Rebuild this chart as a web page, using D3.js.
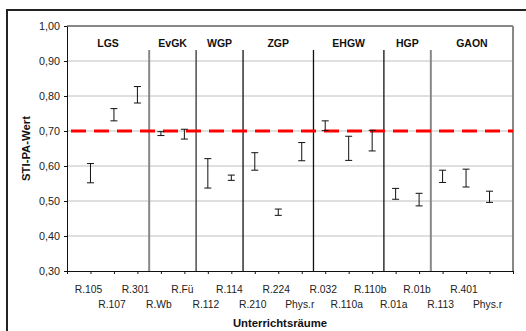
<!DOCTYPE html>
<html><head><meta charset="utf-8">
<script src="https://cdn.jsdelivr.net/npm/d3@7"></script>
<style>
html,body{margin:0;padding:0;background:#fff;}
svg{display:block;font-family:"Liberation Sans",Arial,sans-serif;}
</style></head>
<body><svg id="c" width="526" height="331"></svg>
<script>
const groups = ["LGS","EvGK","WGP","ZGP","EHGW","HGP","GAON"];
const groupSizes = [3,2,2,3,3,2,3];
const rooms = ["R.105","R.107","R.301","R.Wb","R.Fü","R.112","R.114","R.210","R.224","Phys.r","R.032","R.110a","R.110b","R.01a","R.01b","R.113","R.401","Phys.r"];
const lows  = [0.552,0.729,0.780,0.687,0.677,0.537,0.559,0.588,0.459,0.615,0.701,0.616,0.643,0.505,0.486,0.553,0.540,0.496];
const highs = [0.607,0.764,0.827,0.698,0.705,0.621,0.574,0.638,0.477,0.667,0.729,0.685,0.702,0.536,0.522,0.588,0.591,0.528];
const yTicks = [0.30,0.40,0.50,0.60,0.70,0.80,0.90,1.00];
const threshold = 0.70;
const yTitle = "STI-PA-Wert";
const xTitle = "Unterrichtsräume";

const svg = d3.select("#c");
const L = 67, R = 513, T = 26, B = 271;
const x = d3.scaleLinear().domain([0, rooms.length + 1]).range([L, R]);
const y = d3.scaleLinear().domain([0.30, 1.00]).range([B, T]);

// outer frame
svg.append("rect").attr("x",7).attr("y",10).attr("width",600).attr("height",400)
  .attr("fill","none").attr("stroke","#222").attr("stroke-width",2);

// gridlines
svg.append("g").selectAll("line").data(yTicks.filter(v => v > 0.30 && v < 1.0)).join("line")
  .attr("x1",L).attr("x2",R).attr("y1",d=>y(d)).attr("y2",d=>y(d))
  .attr("stroke","#c0c0c0").attr("stroke-width",1);

// plot border: top black, right gray
svg.append("line").attr("x1",L).attr("x2",R).attr("y1",y(1.0)).attr("y2",y(1.0)).attr("stroke","#111").attr("stroke-width",1);
svg.append("line").attr("x1",R).attr("x2",R).attr("y1",T).attr("y2",B).attr("stroke","#888").attr("stroke-width",2);

// group separators
const bounds = [];
let acc = 0;
groupSizes.forEach(n => { acc += n; bounds.push(acc); });
const sepColor = ["#888","#333","#111","#111","#111","#888"];
svg.append("g").selectAll("line").data(bounds.slice(0,-1)).join("line")
  .attr("x1",d=>x(d+0.5)).attr("x2",d=>x(d+0.5)).attr("y1",50).attr("y2",B)
  .attr("stroke",(d,i)=>sepColor[i]).attr("stroke-width",(d,i)=>sepColor[i]==="#888"?2:1.3);

// group labels centered between separators
const edges = [0].concat(bounds.slice(0,-1).map(b=>b+0.5)).concat([rooms.length+1]);
const edgesL = [0].concat(bounds.slice(0,-1).map(b=>b+0.5));
svg.append("g").selectAll("text").data(groups).join("text")
  .attr("x",(d,i)=>(x(edgesL[i]) + x(edges[i+1]))/2).attr("y",47)
  .attr("text-anchor","middle").attr("font-size","10.5px").attr("font-weight","bold").attr("fill","#111")
  .text(d=>d);

// threshold dashed line
svg.append("line").attr("x1",L+4).attr("x2",R).attr("y1",y(threshold)).attr("y2",y(threshold))
  .attr("stroke","#ff0000").attr("stroke-width",3).attr("stroke-dasharray","15,8");

// error bars
const idx = d3.range(rooms.length);
const eb = svg.append("g").attr("stroke","#111").attr("stroke-width",1);
eb.selectAll(".v").data(idx).join("line")
  .attr("x1",i=>x(i+1)).attr("x2",i=>x(i+1)).attr("y1",i=>y(highs[i])).attr("y2",i=>y(lows[i]));
eb.selectAll(".h").data(idx).join("line")
  .attr("x1",i=>x(i+1)-3.5).attr("x2",i=>x(i+1)+3.5).attr("y1",i=>y(highs[i])).attr("y2",i=>y(highs[i]));
eb.selectAll(".l").data(idx).join("line")
  .attr("x1",i=>x(i+1)-3.5).attr("x2",i=>x(i+1)+3.5).attr("y1",i=>y(lows[i])).attr("y2",i=>y(lows[i]));

// y axis
const ya = svg.append("g").attr("transform",`translate(${L},0)`)
  .call(d3.axisLeft(y).tickValues(yTicks).tickSize(3).tickSizeOuter(0).tickPadding(4)
    .tickFormat(d=>d.toFixed(2).replace(".",",")));
ya.select(".domain").attr("stroke","#111");
ya.selectAll(".tick line").attr("stroke","#111");
ya.selectAll("text").attr("font-size","10.8px").attr("fill","#222").attr("font-family","Liberation Sans, Arial, sans-serif");

// x axis
const xa = svg.append("g").attr("transform",`translate(0,${B})`)
  .call(d3.axisBottom(x).tickValues(d3.range(0, rooms.length+2)).tickSize(3).tickSizeOuter(0).tickFormat(""));
xa.select(".domain").attr("stroke","#111");
xa.selectAll(".tick line").attr("stroke","#111");

svg.append("g").selectAll("text").data(idx).join("text")
  .attr("x",i=>x(i+1)-2).attr("y",i=> i%2===0 ? 293 : 308)
  .attr("text-anchor","middle").attr("font-size","10.3px").attr("fill","#222")
  .text(i=>rooms[i]);

// titles
svg.append("text").attr("transform",`translate(30,${(T+B)/2}) rotate(-90)`)
  .attr("text-anchor","middle").attr("font-size","11.3px").attr("font-weight","bold").attr("fill","#111")
  .text(yTitle);
svg.append("text").attr("x",280).attr("y",327).attr("text-anchor","middle")
  .attr("font-size","11.3px").attr("font-weight","bold").attr("fill","#111").text(xTitle);
</script></body></html>
